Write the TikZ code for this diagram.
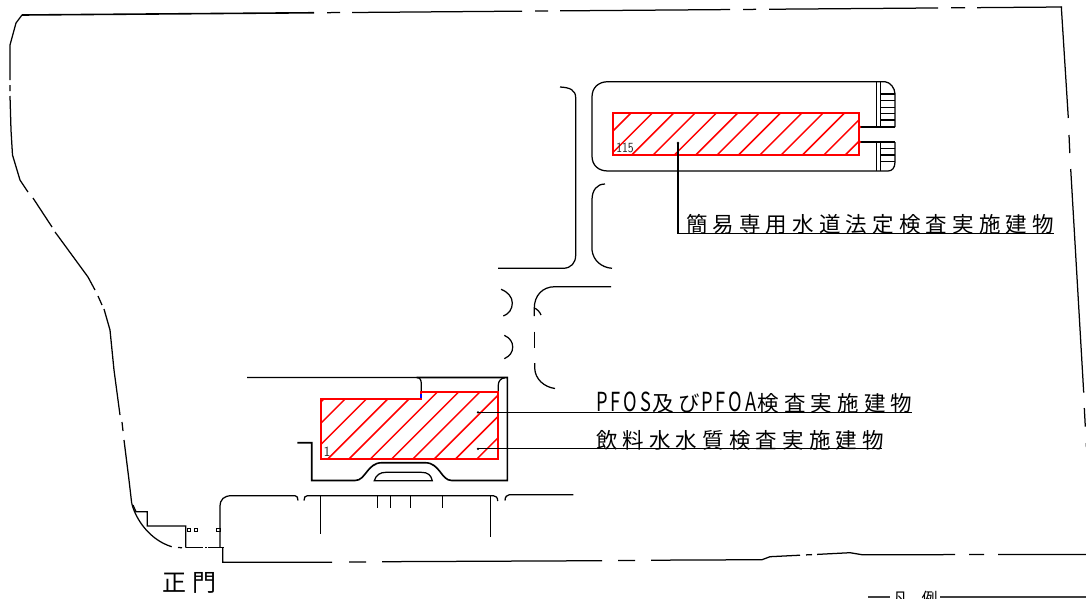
\documentclass[tikz,border=0pt]{standalone}
\usepackage{fontspec}
\usepackage{graphicx}
\newfontfamily\cjk[LetterSpace=24]{Noto Sans CJK JP}
\newfontfamily\cjkl{Noto Sans CJK JP}
\newcommand{\narrowlat}[1]{\scalebox{0.85}[1.22]{#1}}
\tikzset{
  ln/.style={line width=1.25pt,black,line cap=butt},
  hv/.style={line width=1.6pt,black},
  redb/.style={line width=2pt,red,line join=miter},
  hatch/.style={line width=1.5pt,red},
  lab/.style={anchor=south west,inner sep=0pt,outer sep=0pt,font=\fontsize{21.5pt}{21.5pt}\selectfont\cjk},
  small/.style={anchor=center,inner sep=0pt,text=black!85},
  sq/.style={line width=1pt,black},
  dotm/.style={circle,fill=black,inner sep=0pt,minimum size=2.6pt}
}
\begin{document}
\begin{tikzpicture}[x=1pt,y=-1pt]
\useasboundingbox (0,0) rectangle (1086,598);
\begin{scope}
\clip (0,0) rectangle (1086,598);
% --- site boundary
\draw[hv] (22,15) -- (314,12.75);
\draw[ln] (327,12.65)--(340,12.55) (352,12.5)--(522,11.15) (535,11.05)--(548,10.95) (560,10.85)--(730,9.55) (743,9.45)--(756,9.35) (769,9.25)--(938,7.95) (951,7.85)--(965,7.75) (977,7.65)--(1062,7);
\draw[ln] (1061.3,6.7)--(1068.3,118) (1069,135)--(1069.8,153) (1070.7,169)--(1083.7,392.7) (1084.3,408)--(1085.3,426.7);
\draw[ln,black!30] (1085.7,443)--(1085.9,447);
\draw[ln] (22,15)--(16,23)--(10,45)--(10,80) (10,85)--(10,91) (10,96)--(11,130)--(12.5,155)--(20,180)--(28,192);
\draw[ln] (33,198)--(52,227) (55,232)--(58,236)--(88,277)--(95,290) (98,296)--(102,305) (104,309)--(110,330);
\draw[ln] (110,330)--(114,370)--(120,415) (122,422)--(123,431) (124,440)--(129,480)--(131.7,503.3);
\draw[ln] (131.7,503.3) .. controls (136,520) and (150,540) .. (171.7,546.7);
\draw[ln] (178,547.5)--(182,547.7);
\draw[ln] (185.7,547.7)--(203.3,547.7) (205,547.7)--(207.3,547.7) (208.3,547.7)--(224.3,547.7);
\draw[ln] (222.7,547.7)--(222.7,562.3)--(332,562.2) (349,562.1)--(366,562) (382,561.7)--(602,560.7) (618,560.5)--(635,560.4) (651,560.2)--(762,559.7)--(770,556.7)--(800,555.2) (806,554.9)--(812,554.6) (817,554.4)--(850,552.7)--(862,554.7)--(955,554.6) (969,554.6)--(984,554.6) (998,554.6)--(1086,554.6);
% --- gate steps
\draw[ln] (133,505)--(136,511.7)--(147.3,511.7)--(147.3,526)--(185.7,526)--(185.7,547.7);
\draw[sq] (187,528.5) rectangle (190,531.5) (194,528.8) rectangle (197.3,531.4) (216.7,528.8) rectangle (220,531.2);
\draw[ln] (220,547.7)--(220,507) .. controls (220,499) and (224,495.7) .. (232,495.7)--(295,495.7) .. controls (297,495.7) and (298,497.5) .. (298,500.5);
\draw[ln] (304,500.5) .. controls (304,497.5) and (305,495.7) .. (307.3,495.7)--(493.3,495.7) .. controls (496,495.7) and (497.7,497.5) .. (497.7,501);
\draw[ln] (505,500.5) .. controls (505,497) and (507,494.7) .. (509.3,494.7)--(573.3,494.7);
\draw[ln] (320.6,495.7)--(320.6,534.3) (377.3,495.7)--(377.3,507.7) (390.3,495.7)--(390.3,507.7) (410.4,495.7)--(410.4,507.7) (442.3,495.7)--(442.3,507.7) (490.4,495.7)--(490.4,536.7);
% --- roads
\draw[ln] (560,87) .. controls (570,87.5) and (575.7,90) .. (575.7,98)--(575.7,255) .. controls (575.7,263) and (571,268.3) .. (563,268.3)--(498,268.3);
\draw[ln] (605,184) .. controls (597,184) and (592,190) .. (592,200)--(592,250) .. controls (593,260) and (601,267.5) .. (612,268.3);
\draw[ln] (611,286.7)--(555,286.7) .. controls (542,286.7) and (534.3,296) .. (534.3,308)--(534.3,316);
\draw[ln] (534.3,308) .. controls (537,309) and (540,312) .. (541,315);
\draw[ln] (534.7,331.7)--(534.7,348);
\draw[ln] (534.7,363)--(534.7,368) .. controls (535,379) and (544,387) .. (555,388.5);
\draw[ln] (501,289.3) .. controls (508,292) and (512.3,297) .. (512.3,303) .. controls (512.3,309) and (509,314) .. (503.3,316);
\draw[ln] (504.3,335.3) .. controls (510,338) and (512.7,342) .. (512.7,347) .. controls (512.7,352) and (510,356) .. (504.3,358.7);
% --- upper building
\draw[ln] (608,81.7)--(885,81.7) .. controls (890,82) and (895,88) .. (895,94)--(895,127);
\draw[ln] (608,81.7) .. controls (598,81.7) and (592,88) .. (592,97)--(592,156) .. controls (592,165) and (598,171) .. (608,171)--(888,171) .. controls (892,171) and (895,168) .. (895,162)--(895,142);
\draw[ln] (876.7,81.7)--(876.7,127) (880.7,81.7)--(880.7,127) (876.7,142)--(876.7,171) (880.7,142)--(880.7,171);
\draw[ln] (880.7,94)--(895,94) (880.7,100.7)--(895,100.7) (880.7,107.3)--(895,107.3) (880.7,113.5)--(895,113.5) (880.7,120)--(895,120);
\draw[ln] (860,127)--(895,127) (860,142)--(895,142);
\draw[ln] (880.7,148.3)--(895,148.3) (880.7,155)--(895,155) (880.7,161.7)--(895,161.7);
\begin{scope}
\clip (613.3,113.3) rectangle (859,155);
\foreach \k in {0,...,13} \draw[hatch] ({589+21.35*\k},155)--({639+21.35*\k},105);
\end{scope}
\draw[redb] (613.3,113.3) rectangle (859,155);
\fill[red] (859.6,127) circle (1.8pt) (859.6,142) circle (1.8pt);
\node[small,font=\fontsize{14pt}{14pt}\selectfont\sffamily] (n115) at (625,147.5) {\scalebox{0.85}[1]{115}};
% --- lower building
\draw[ln] (247,377.5)--(416.7,377.5) .. controls (420,377.5) and (421.3,380) .. (421.3,384)--(421.3,393);
\draw[hv] (416.7,377.5)--(507.3,377.5)--(507.3,480.5)--(451.7,480.5) .. controls (441,480.5) and (440,462.7) .. (425,462.7)--(382,462.7) .. controls (367,462.7) and (366,480.5) .. (355,480.5)--(311.7,480.5)--(311.7,442.7)--(297.3,442.7);
\draw[ln] (498.3,392) -- (498.3,385) .. controls (498.3,381) and (501,378) .. (505,377.8);
\draw[ln] (374.3,480.7) .. controls (376,475) and (380,472.3) .. (386,472.3)--(421,472.3) .. controls (428,472.3) and (431,475) .. (432.3,480.7)--cycle;
\begin{scope}
\clip (320.7,399)--(421,399)--(421,392.3)--(498.3,392.3)--(498.3,459)--(320.7,459)--cycle;
\foreach \k in {-3,...,8} \draw[hatch] ({327.7+21.3*\k},459)--({427.7+21.3*\k},359);
\end{scope}
\draw[redb] (320.7,399)--(421,399)--(421,392.3)--(498.3,392.3)--(498.3,459)--(320.7,459)--cycle;
\draw[line width=1.3pt,blue] (421,393.5)--(421,398);
\node[small,font=\fontsize{14pt}{14pt}\selectfont\sffamily] (n1) at (327,452) {1};
% --- labels
\node[lab] (kan) at (686,234.5) {簡易専用水道法定検査実施建物};
\node[lab] (pfos) at (596,413.5) {\narrowlat{P}\hspace{3pt}\narrowlat{F}\hspace{3pt}\narrowlat{O}\hspace{3pt}\narrowlat{S}\hspace{1pt}及び\hspace{1pt}\narrowlat{P}\hspace{3pt}\narrowlat{F}\hspace{3pt}\narrowlat{O}\hspace{3pt}\narrowlat{A}\hspace{1pt}検査実施建物};
\node[lab] (ins) at (596,450.5) {飲料水水質検査実施建物};
\node[anchor=center,inner sep=0pt,font=\fontsize{24pt}{24pt}\selectfont\cjkl] (gate) at (189.5,583) {正\hspace{7pt}門};
\node[anchor=center,inner sep=0pt,font=\fontsize{16pt}{16pt}\selectfont\cjkl] (leg) at (915,598.5) {凡\hspace{13pt}例};
% --- leaders
\coordinate (a) at (678,143);
\coordinate (a2) at (678,233.3);
\coordinate (a3) at (1054,233.3);
\coordinate (b) at (478,412.3);
\coordinate (b2) at (911.7,412.3);
\coordinate (c) at (478,448.8);
\coordinate (c2) at (881.7,448.8);
\draw[ln] (a)--(a2)--(a3);
\draw[ln] (b)--(b2);
\draw[ln] (c)--(c2);
\node[dotm] at (a) {};
\node[dotm] at (b) {};
\node[dotm] at (c) {};
\draw[hv,black!75] (868,596.8)--(890,596.8) (940,596.8)--(1086,596.8);
\end{scope}
\end{tikzpicture}
\end{document}
